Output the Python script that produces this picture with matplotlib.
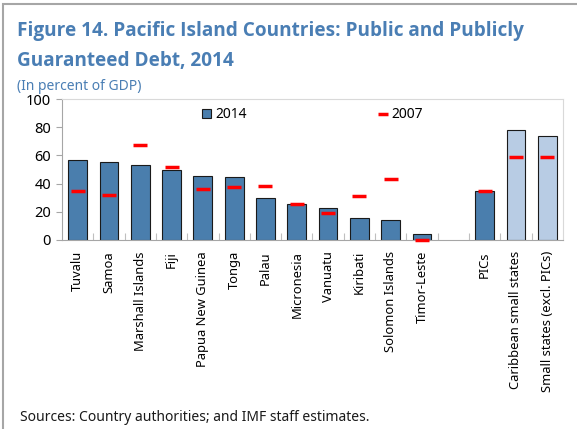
import matplotlib.pyplot as plt
from matplotlib.patches import Patch, Rectangle
from matplotlib.lines import Line2D

plt.rcParams['font.family'] = ['Noto Sans', 'DejaVu Sans']

paises = ['Tuvalu', 'Samoa', 'Marshall Islands', 'Fiji', 'Papua New Guinea',
          'Tonga', 'Palau', 'Micronesia', 'Vanuatu', 'Kiribati',
          'Solomon Islands', 'Timor-Leste']
grupos = ['PICs', 'Caribbean small states', 'Small states (excl. PICs)']

deuda_2014_paises = [57, 55, 53.4, 49.4, 45.2, 44.5, 29.6, 25.5, 22.5, 15.8, 14.4, 4]
deuda_2007_paises = [34.5, 31.7, 67.2, 51.5, 36, 37.4, 38, 25.3, 19, 31, 43, 0]

deuda_2014_grupos = [34.5, 77.8, 73.8]
deuda_2007_grupos = [34.5, 58.7, 58.7]

azul = '#4A7EAD'
azul_claro = '#B8CCE4'
titulo_color = '#4A7EB4'

# posiciones: paises, un hueco, luego los grupos
pos_paises = list(range(len(paises)))
pos_grupos = [len(paises) + 1 + i for i in range(len(grupos))]

fig = plt.figure(figsize=(5.77, 4.29), dpi=100)
ax = fig.add_axes([0.1075, 0.4406, 0.868, 0.3286])

ax.bar(pos_paises, deuda_2014_paises, width=0.6, color=azul,
       edgecolor='#1a1a1a', linewidth=0.8, zorder=2)
ax.bar(pos_grupos[:1], deuda_2014_grupos[:1], width=0.6, color=azul,
       edgecolor='#1a1a1a', linewidth=0.8, zorder=2)
ax.bar(pos_grupos[1:], deuda_2014_grupos[1:], width=0.6, color=azul_claro,
       edgecolor='#1a1a1a', linewidth=0.8, zorder=2)

ax.plot(pos_paises + pos_grupos, deuda_2007_paises + deuda_2007_grupos,
        linestyle='none', marker='_', markersize=9.5, markeredgewidth=2.5,
        color='#FF0000', zorder=3, clip_on=False)

ax.set_xlim(-0.5, 15.5)
ax.set_ylim(0, 100)
ax.set_yticks([0, 20, 40, 60, 80, 100])
ax.set_xticks(pos_paises + pos_grupos)
ax.set_xticklabels(paises + grupos, rotation=90, fontsize=9.3)
ax.set_xticks([i + 0.5 for i in range(15)], minor=True)
ax.tick_params(axis='x', which='major', length=0, pad=8)
ax.tick_params(axis='x', which='minor', direction='in', length=5,
               color='#BFBFBF', width=0.8)
ax.tick_params(axis='y', direction='out', length=4, color='#A6A6A6',
               labelsize=10.5, pad=4)

for lado in ['left', 'bottom']:
    ax.spines[lado].set_color('#A6A6A6')
for lado in ['top', 'right']:
    ax.spines[lado].set_color('#D9D9D9')

h1 = Patch(facecolor=azul, edgecolor='#1a1a1a', linewidth=0.8)
h2 = Line2D([], [], linestyle='none', marker='_', markersize=7,
            markeredgewidth=2.5, color='#FF0000')
ax.legend([h1, h2], ['2014', '2007'], loc='upper center', ncol=2,
          frameon=False, fontsize=10, handlelength=0.6, handleheight=0.6,
          handletextpad=0.3, columnspacing=9.5, bbox_to_anchor=(0.5, 1.03))

titulo = dict(fontsize=13.7, fontweight='bold', color=titulo_color,
              va='center', family=['Open Sans', 'DejaVu Sans'])
fig.text(0.03, 0.928, 'Figure 14. Pacific Island Countries: Public and Publicly',
         **titulo)
fig.text(0.03, 0.858, 'Guaranteed Debt, 2014', **titulo)
fig.text(0.03, 0.798, '(In percent of GDP)', fontsize=10,
         color=titulo_color, va='center')
fig.text(0.035, 0.026, 'Sources: Country authorities; and IMF staff estimates.',
         fontsize=10, color='#1a1a1a', va='center')

# marco gris arriba e izquierda
fig.add_artist(Rectangle((0.005, -0.1), 2, 1.09, transform=fig.transFigure,
                         fill=False, edgecolor='#A6A6A6', linewidth=1.5))

fig.savefig('out.png', dpi=100)
